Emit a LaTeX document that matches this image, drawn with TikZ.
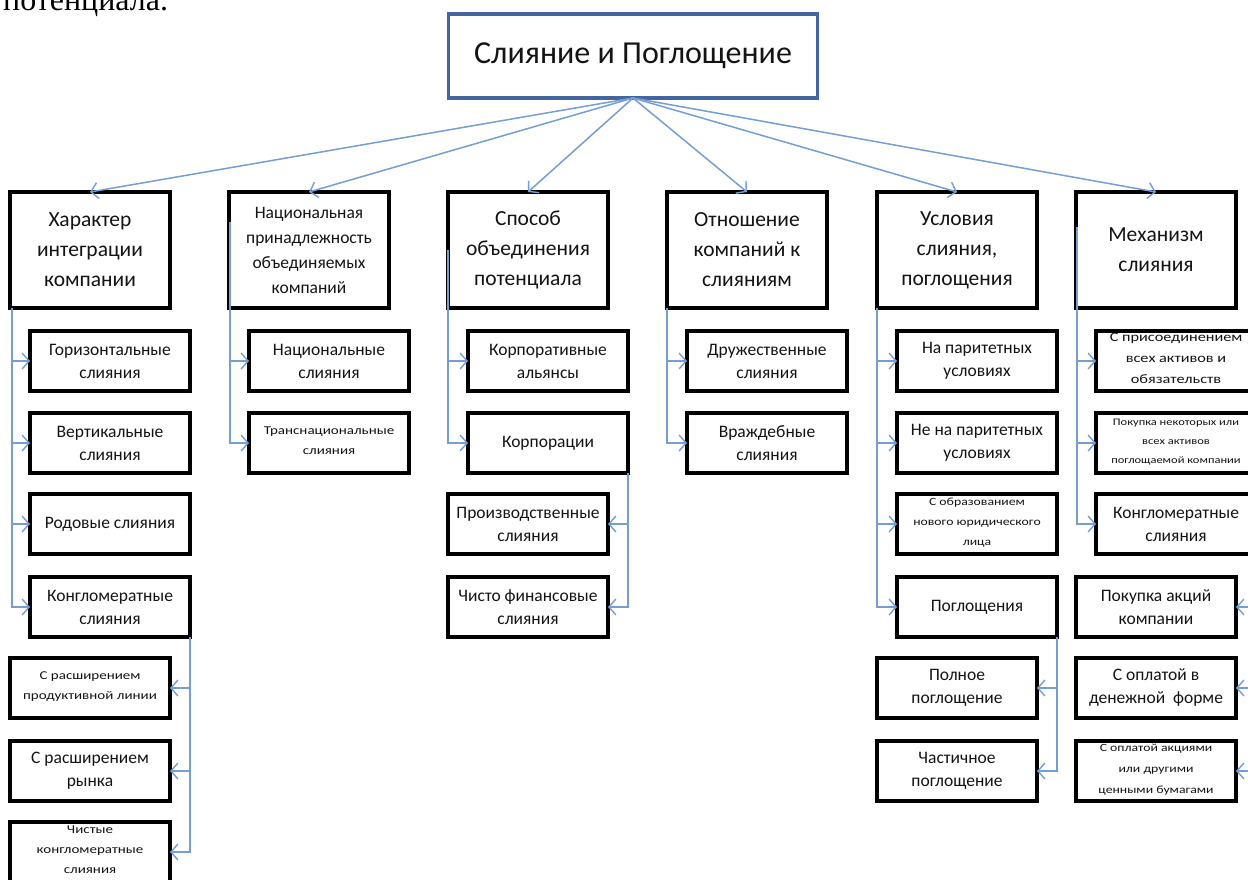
\documentclass[tikz,border=0pt]{standalone}
\usepackage{fontspec}
\setmainfont{Carlito}
\newfontfamily\wide[FakeStretch=1.25]{Carlito}
\newfontfamily\serifdoc{Liberation Serif}
\usetikzlibrary{arrows.meta,calc}
\definecolor{connblue}{RGB}{118,158,210}
\definecolor{ttlblue}{RGB}{68,102,160}
\definecolor{txtgray}{RGB}{20,20,20}
\newcommand\ovf[1]{\smash{\begin{tabular}{@{}c@{}}#1\end{tabular}}}
\begin{document}
\begin{tikzpicture}[x=1pt,y=-1pt,
  box/.style={draw=black, line width=3.2pt, fill=white, minimum width=160pt,
    minimum height=60pt, inner sep=0pt, outer sep=0pt, align=center,
    text=txtgray, font=\fontsize{17.5}{23}\selectfont},
  cat/.style={box, minimum height=116pt, font=\fontsize{21.5}{30}\selectfont},
  catsm/.style={cat, font=\fontsize{17.5}{25}\selectfont},
  title/.style={box, draw=ttlblue, minimum width=369pt, minimum height=84pt,
    font=\fontsize{32}{38}\selectfont},
  smallA/.style={font=\wide\fontsize{12}{20}\selectfont},
  smallB/.style={font=\wide\fontsize{11}{20}\selectfont},
  smallC/.style={font=\wide\fontsize{13}{21}\selectfont},
  smallD/.style={font=\wide\fontsize{10}{19}\selectfont},
  smallE/.style={font=\wide\fontsize{11}{21}\selectfont},
  conn/.style={draw=connblue, line width=1.5pt,
    -{Straight Barb[length=7pt,width=16pt,line width=1.4pt]}}
]
\clip (0,0) rectangle (1248,879);
\fill[white] (0,0) rectangle (1248,879);

% clipped text of the surrounding document
\node[anchor=base west, inner sep=0pt, font=\serifdoc\fontsize{32}{38}\selectfont] (prev) at (3,10) {потенциала.};

% title
\node[title] (top) at (633,56) {Слияние и Поглощение};

% categories
\node[cat]   (c1) at (90,250)   {Характер\\интеграции\\компании};
\node[catsm] (c2) at (309,250)  {Национальная\\принадлежность\\объединяемых\\компаний};
\node[cat]   (c3) at (528,250)  {Способ\\объединения\\потенциала};
\node[cat]   (c4) at (747,250)  {Отношение\\компаний к\\слияниям};
\node[cat]   (c5) at (957,250)  {Условия\\слияния,\\поглощения};
\node[cat]   (c6) at (1156,250) {Механизм\\слияния};

% column 1
\node[box] (s11) at (110,361) {Горизонтальные\\слияния};
\node[box] (s12) at (110,443) {Вертикальные\\слияния};
\node[box] (s13) at (110,524) {Родовые слияния};
\node[box] (s14) at (110,607) {Конгломератные\\слияния};
\node[box,smallA] (s15) at (90,688) {\ovf{С расширением\\продуктивной линии}};
\node[box] (s16) at (90,771) {С расширением\\рынка};
\node[box,smallA] (s17) at (90,852) {\ovf{Чистые\\конгломератные\\слияния}};

% column 2
\node[box] (s21) at (329,361) {Национальные\\слияния};
\node[box,smallA] (s22) at (329,443) {\ovf{Транснациональные\\слияния}};

% column 3
\node[box] (s31) at (548,361) {Корпоративные\\альянсы};
\node[box] (s32) at (548,443) {Корпорации};
\node[box] (s33) at (528,524) {Производственные\\слияния};
\node[box] (s34) at (528,607) {Чисто финансовые\\слияния};

% column 4
\node[box] (s41) at (767,361) {Дружественные\\слияния};
\node[box] (s42) at (767,443) {Враждебные\\слияния};

% column 5
\node[box] (s51) at (977,361) {На паритетных\\условиях};
\node[box] (s52) at (977,443) {Не на паритетных\\условиях};
\node[box,smallB] (s53) at (977,524) {\ovf{С образованием\\нового юридического\\лица}};
\node[box] (s54) at (977,607) {Поглощения};
\node[box] (s55) at (957,688) {Полное\\поглощение};
\node[box] (s56) at (957,771) {Частичное\\поглощение};

% column 6
\node[box,smallC] (s61) at (1176,361) {\ovf{С присоединением\\всех активов и\\обязательств}};
\node[box,smallD] (s62) at (1176,443) {\ovf{Покупка некоторых или\\всех активов\\поглощаемой компании}};
\node[box] (s63) at (1176,524) {Конгломератные\\слияния};
\node[box] (s64) at (1156,607) {Покупка акций\\компании};
\node[box] (s65) at (1156,688) {С оплатой в\\денежной\ \ форме};
\node[box,smallE] (s66) at (1156,771) {\ovf{С оплатой акциями\\или другими\\ценными бумагами}};

% top connectors
\foreach \c in {c1,c2,c3,c4,c5,c6}
  \draw[conn] (top.south) -- (\c.north);

% column connectors
\foreach \s in {s11,s12,s13,s14}
  \draw[conn] ([xshift=2pt]c1.south west) |- (\s.west);
\foreach \s in {s15,s16,s17}
  \draw[conn] (s14.south east) |- (\s.east);
\foreach \s in {s21,s22}
  \draw[conn] ($(c2.north west)+(1,30)$) |- (\s.west);
\foreach \s in {s31,s32}
  \draw[conn] (c3.west) |- (\s.west);
\foreach \s in {s33,s34}
  \draw[conn] (s32.south east) |- (\s.east);
\foreach \s in {s41,s42}
  \draw[conn] (c4.south west) |- (\s.west);
\foreach \s in {s51,s52,s53,s54}
  \draw[conn] (c5.south west) |- (\s.west);
\foreach \s in {s55,s56}
  \draw[conn] (s54.south east) |- (\s.east);
\foreach \s in {s61,s62,s63}
  \draw[conn] ($(c6.north west)+(1,35)$) |- (\s.west);
\foreach \s in {s64,s65,s66}
  \draw[conn] (s63.south east) |- (\s.east);
\end{tikzpicture}
\end{document}
